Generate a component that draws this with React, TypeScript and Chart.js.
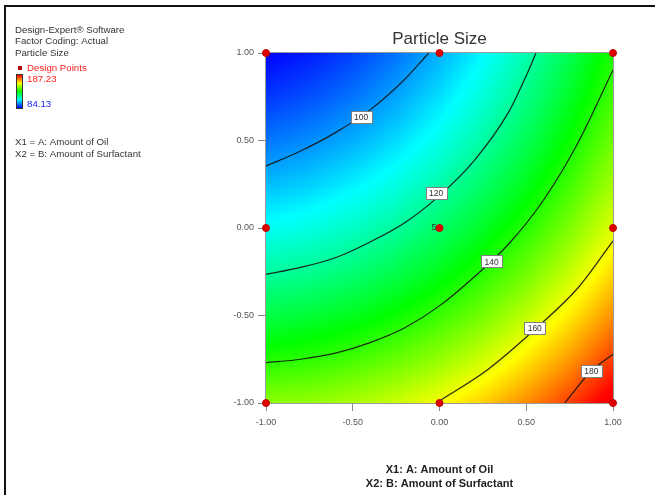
import React, { useEffect, useRef } from 'react';
import { Chart, registerables } from 'chart.js';

Chart.register(...registerables);

// ---- data ----
const gridX = [-1, -0.75, -0.5, -0.25, 0, 0.25, 0.5, 0.75, 1];
const gridY = [1, 0.75, 0.5, 0.25, 0, -0.25, -0.5, -0.75, -1];
// Particle size estimated over the grid (rows follow gridY, columns follow gridX)
const sizeRow1 = [84.1, 86.8, 90.7, 95.7, 102.0, 109.3, 117.9, 127.6, 138.5];
const sizeRow2 = [89.6, 92.2, 95.8, 100.7, 106.7, 113.8, 122.2, 131.6, 142.3];
const sizeRow3 = [96.0, 98.3, 101.7, 106.3, 112.1, 119.1, 127.2, 136.4, 146.9];
const sizeRow4 = [103.1, 105.1, 108.4, 112.8, 118.3, 125.1, 133.0, 142.0, 152.2];
const sizeRow5 = [110.9, 112.8, 115.8, 120.0, 125.3, 131.8, 139.5, 148.3, 158.3];
const sizeRow6 = [119.5, 121.1, 123.9, 127.9, 133.0, 139.3, 146.8, 155.4, 165.1];
const sizeRow7 = [128.8, 130.2, 132.8, 136.6, 141.5, 147.5, 154.8, 163.2, 172.7];
const sizeRow8 = [138.9, 140.1, 142.5, 146.0, 150.7, 156.5, 163.6, 171.7, 181.1];
const sizeRow9 = [149.8, 150.7, 152.9, 156.2, 160.7, 166.3, 173.1, 181.0, 190.2];
const sizeGrid = [sizeRow1, sizeRow2, sizeRow3, sizeRow4, sizeRow5, sizeRow6, sizeRow7, sizeRow8, sizeRow9];

const sizeMin = 84.13;
const sizeMax = 187.23;

const contourLevels = [100, 120, 140, 160, 180];
const contour100 = [
  { x: -1, y: 0.354 }, { x: -0.8, y: 0.44 }, { x: -0.6, y: 0.545 }, { x: -0.4, y: 0.675 },
  { x: -0.2, y: 0.85 }, { x: -0.062, y: 1 },
];
const contour120 = [
  { x: -1, y: -0.265 }, { x: -0.8, y: -0.225 }, { x: -0.6, y: -0.17 }, { x: -0.4, y: -0.08 },
  { x: -0.2, y: 0.03 }, { x: 0, y: 0.185 }, { x: 0.2, y: 0.385 }, { x: 0.4, y: 0.665 },
  { x: 0.5, y: 0.87 }, { x: 0.556, y: 1 },
];
const contour140 = [
  { x: -1, y: -0.77 }, { x: -0.8, y: -0.75 }, { x: -0.6, y: -0.715 }, { x: -0.4, y: -0.655 },
  { x: -0.2, y: -0.57 }, { x: 0, y: -0.445 }, { x: 0.2, y: -0.28 }, { x: 0.4, y: -0.09 },
  { x: 0.6, y: 0.16 }, { x: 0.8, y: 0.49 }, { x: 1, y: 0.903 },
];
const contour160 = [
  { x: -0.02, y: -1 }, { x: 0.279, y: -0.808 }, { x: 0.549, y: -0.58 }, { x: 0.8, y: -0.34 }, { x: 1, y: -0.074 },
];
const contour180 = [
  { x: 0.722, y: -1 }, { x: 0.875, y: -0.817 }, { x: 1, y: -0.722 },
];
const contourLines = [contour100, contour120, contour140, contour160, contour180];
const contourLabelX = [-0.452, -0.02, 0.3, 0.549, 0.875];
const contourLabelY = [0.634, 0.2, -0.19, -0.57, -0.817];

const designX = [-1, 0, 1, -1, 0, 1, -1, 0, 1];
const designY = [1, 1, 1, 0, 0, 0, -1, -1, -1];
const designRuns = [1, 1, 1, 1, 5, 1, 1, 1, 1];

const tickValues = [-1, -0.5, 0, 0.5, 1];

const titleText = 'Particle Size';
const xTitle1 = 'X1: A: Amount of Oil';
const xTitle2 = 'X2: B: Amount of Surfactant';
const infoLines = ['Design-Expert® Software', 'Factor Coding: Actual', 'Particle Size'];
const factorLines = ['X1 = A: Amount of Oil', 'X2 = B: Amount of Surfactant'];

// ---- colour map ----
const colorStops: [number, number[]][] = [
  [0, [0, 0, 255]],
  [0.25, [0, 255, 255]],
  [0.5, [0, 255, 0]],
  [0.75, [255, 255, 0]],
  [1, [255, 0, 0]],
];
function colorFor(v: number): number[] {
  let t = (v - sizeMin) / (sizeMax - sizeMin);
  t = Math.max(0, Math.min(1, t));
  for (let i = 0; i < colorStops.length - 1; i++) {
    const [t0, c0] = colorStops[i];
    const [t1, c1] = colorStops[i + 1];
    if (t <= t1) {
      const f = (t - t0) / (t1 - t0);
      return [c0[0] + (c1[0] - c0[0]) * f, c0[1] + (c1[1] - c0[1]) * f, c0[2] + (c1[2] - c0[2]) * f];
    }
  }
  return colorStops[colorStops.length - 1][1];
}

function sampleGrid(x: number, y: number): number {
  const n = gridX.length, m = gridY.length;
  let fx = ((x - gridX[0]) / (gridX[n - 1] - gridX[0])) * (n - 1);
  let fy = ((y - gridY[0]) / (gridY[m - 1] - gridY[0])) * (m - 1);
  fx = Math.max(0, Math.min(n - 1, fx));
  fy = Math.max(0, Math.min(m - 1, fy));
  const i = Math.min(n - 2, Math.floor(fx));
  const j = Math.min(m - 2, Math.floor(fy));
  const ax = fx - i, ay = fy - j;
  const v00 = sizeGrid[j][i], v10 = sizeGrid[j][i + 1];
  const v01 = sizeGrid[j + 1][i], v11 = sizeGrid[j + 1][i + 1];
  return (v00 * (1 - ax) + v10 * ax) * (1 - ay) + (v01 * (1 - ax) + v11 * ax) * ay;
}

const FONT = "'Liberation Sans', Arial, sans-serif";

const heatmapPlugin = {
  id: 'heatmap',
  beforeDatasetsDraw(chart: any) {
    const { ctx, chartArea: ca, scales } = chart;
    const xs = scales.x, ys = scales.y;
    const w = Math.round(ca.right - ca.left);
    const h = Math.round(ca.bottom - ca.top);
    const off = document.createElement('canvas');
    off.width = w;
    off.height = h;
    const octx = off.getContext('2d')!;
    const img = octx.createImageData(w, h);
    for (let j = 0; j < h; j++) {
      const y = ys.getValueForPixel(ca.top + j + 0.5);
      for (let i = 0; i < w; i++) {
        const x = xs.getValueForPixel(ca.left + i + 0.5);
        const c = colorFor(sampleGrid(x, y));
        const k = (j * w + i) * 4;
        img.data[k] = c[0];
        img.data[k + 1] = c[1];
        img.data[k + 2] = c[2];
        img.data[k + 3] = 255;
      }
    }
    octx.putImageData(img, 0, 0);
    ctx.save();
    ctx.drawImage(off, ca.left, ca.top);
    ctx.strokeStyle = '#9a9a9a';
    ctx.lineWidth = 1;
    ctx.strokeRect(ca.left - 0.5, ca.top - 0.5, w + 1, h + 1);
    ctx.restore();
  },
  afterDatasetsDraw(chart: any) {
    const { ctx, scales } = chart;
    const xs = scales.x, ys = scales.y;
    ctx.save();
    ctx.font = `8.5px ${FONT}`;
    ctx.textAlign = 'center';
    ctx.textBaseline = 'middle';
    contourLevels.forEach((lvl, k) => {
      const px = xs.getPixelForValue(contourLabelX[k]);
      const py = ys.getPixelForValue(contourLabelY[k]);
      const txt = String(lvl);
      const bw = Math.round(ctx.measureText(txt).width + 7);
      const bh = 12;
      const bx = Math.round(px - bw / 2) + 0.5;
      const by = Math.round(py - bh / 2) + 0.5;
      ctx.fillStyle = '#ffffff';
      ctx.fillRect(bx, by, bw, bh);
      ctx.strokeStyle = '#808080';
      ctx.lineWidth = 1;
      ctx.strokeRect(bx, by, bw, bh);
      ctx.fillStyle = '#333';
      ctx.fillText(txt, px, py + 1);
    });
    // replicate count labels
    ctx.font = `9px ${FONT}`;
    ctx.textAlign = 'right';
    ctx.fillStyle = '#333';
    designRuns.forEach((r, k) => {
      if (r > 1) {
        ctx.fillText(String(r), xs.getPixelForValue(designX[k]) - 3, ys.getPixelForValue(designY[k]));
      }
    });
    ctx.restore();
  },
  afterDraw(chart: any) {
    const { ctx, chartArea: ca } = chart;
    ctx.save();
    // outer frame
    ctx.fillStyle = '#111';
    ctx.fillRect(4, 5, 651, 2);
    ctx.fillRect(4, 5, 2, 490);
    // title
    const cx = (ca.left + ca.right) / 2;
    ctx.fillStyle = '#333';
    ctx.font = `17px ${FONT}`;
    ctx.textAlign = 'center';
    ctx.textBaseline = 'middle';
    ctx.fillText(titleText, cx, ca.top - 14);
    // axis titles
    ctx.font = `bold 11px ${FONT}`;
    ctx.fillStyle = '#222';
    ctx.fillText(xTitle1, cx, ca.bottom + 67);
    ctx.fillText(xTitle2, cx, ca.bottom + 81);
    // info block
    ctx.textAlign = 'left';
    ctx.font = `9.7px ${FONT}`;
    ctx.fillStyle = '#333';
    infoLines.forEach((t, i) => ctx.fillText(t, 15, 30 + i * 11.7));
    ctx.fillStyle = '#b01010';
    ctx.fillRect(18, 66, 4, 4);
    ctx.fillStyle = '#ff2020';
    ctx.fillText('Design Points', 27, 68);
    // colour bar
    const barTop = 75, barH = 33;
    const g = ctx.createLinearGradient(0, barTop + barH, 0, barTop);
    colorStops.forEach(([t, c]) => g.addColorStop(t, `rgb(${c[0]},${c[1]},${c[2]})`));
    ctx.fillStyle = g;
    ctx.fillRect(17, barTop, 5, barH);
    ctx.strokeStyle = '#333';
    ctx.lineWidth = 1;
    ctx.strokeRect(16.5, barTop - 0.5, 6, barH + 1);
    ctx.fillStyle = '#ff2020';
    ctx.fillText(sizeMax.toFixed(2), 27, 79);
    ctx.fillStyle = '#2020ff';
    ctx.fillText(sizeMin.toFixed(2), 27, 104);
    ctx.fillStyle = '#333';
    factorLines.forEach((t, i) => ctx.fillText(t, 15, 142 + i * 12));
    ctx.restore();
  },
};

export default function App() {
  const ref = useRef<HTMLCanvasElement>(null);
  useEffect(() => {
    const canvas = ref.current!;
    const lineDatasets = contourLines.map((pts, k) => ({
      label: `Contour ${contourLevels[k]}`,
      data: pts,
      showLine: true,
      borderColor: 'rgba(20,20,20,0.9)',
      borderWidth: 1.2,
      pointRadius: 0,
      cubicInterpolationMode: 'monotone',
      fill: false,
      order: 2,
    }));
    const tickOpts = (axis: 'x' | 'y') => ({
      type: 'linear' as const,
      min: -1,
      max: 1,
      afterBuildTicks: (s: any) => {
        s.ticks = tickValues.map((v) => ({ value: v }));
      },
      afterFit: (s: any) => {
        if (axis === 'x') s.height = 92;
        else s.width = 266;
      },
      ticks: {
        callback: (v: any) => Number(v).toFixed(2),
        font: { family: FONT, size: 9 },
        color: '#555',
        padding: axis === 'x' ? 6 : 4,
        maxRotation: 0,
        autoSkip: false,
      },
      grid: { drawOnChartArea: false, drawTicks: true, tickLength: 8, color: '#888' },
      border: { display: false },
    });
    const chart = new Chart(canvas, {
      type: 'scatter',
      data: {
        datasets: [
          {
            label: 'Design Points',
            data: designX.map((x, i) => ({ x, y: designY[i] })),
            pointRadius: 3.5,
            pointBackgroundColor: '#e00000',
            pointBorderColor: '#c00000',
            pointBorderWidth: 1,
            clip: false as any,
            order: 0,
          },
          ...lineDatasets,
        ] as any,
      },
      options: {
        responsive: false,
        animation: false,
        events: [],
        layout: { padding: { top: 53, right: 42, left: 0, bottom: 0 } },
        plugins: { legend: { display: false }, tooltip: { enabled: false }, title: { display: false } },
        scales: { x: tickOpts('x'), y: tickOpts('y') } as any,
      },
      plugins: [heatmapPlugin],
    });
    return () => chart.destroy();
  }, []);
  return (
    <canvas
      ref={ref}
      width={655}
      height={495}
      style={{ position: 'absolute', left: 0, top: 0, display: 'block', width: 655, height: 495 }}
    />
  );
}
